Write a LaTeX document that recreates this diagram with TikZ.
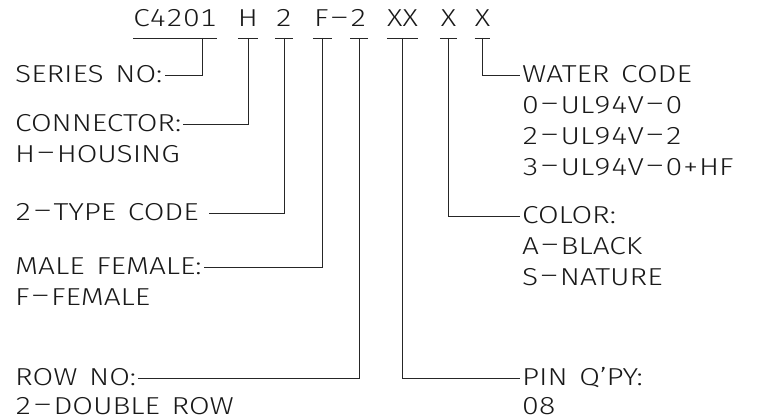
\documentclass[tikz,border=0pt]{standalone}
\usepackage{graphicx}
\usepackage{fontspec}
\setmainfont{Fira Sans Light}[FakeStretch=1.22, Numbers=Monospaced, WordSpace=1.4]
\newcommand{\hy}{\raisebox{1.5pt}{\scalebox{1.8}[1]{-}}}
\begin{document}
\begin{tikzpicture}[x=1pt,y=-1pt,
  every node/.style={font=\fontsize{24.5}{30}\selectfont, text=black!90},
  lbl/.style={anchor=base west, inner xsep=2pt, inner ysep=0pt, text height=14pt, text depth=0pt},
  tok/.style={anchor=base, inner xsep=0pt, inner ysep=0pt, text depth=0pt},
  ln/.style={line width=0.9pt, black!85}]
\useasboundingbox (0,0) rectangle (763,420);
% code tokens
\node[tok, minimum width=80pt] (t1) at (175,27) {C4201};
\node[tok, minimum width=20pt] (t2) at (248,27) {H};
\node[tok, minimum width=18pt] (t3) at (284,27) {2};
\node[tok, minimum width=55pt] (t4) at (340.5,27) {F\hy2};
\node[tok, minimum width=31pt] (t6) at (402.5,27) {XX};
\node[tok, minimum width=17pt] (t7) at (448.5,27) {X};
\node[tok, minimum width=15pt] (t8) at (482.5,27) {X};
% underlines
\foreach \t in {t1,t2,t3,t6,t7,t8}
  \draw[ln] ([yshift=-11pt]\t.base west) -- ([yshift=-11pt]\t.base east);
\draw[ln] ([yshift=-11pt]t4.base west) -- ++(19,0);
\draw[ln] ([yshift=-11pt]t4.base east) -- ++(-18,0);
% connector start points
\coordinate (c1) at ([xshift=-14pt,yshift=-11pt]t1.base east);
\coordinate (c2) at ([yshift=-11pt]t2.base);
\coordinate (c3) at ([yshift=-11pt]t3.base);
\coordinate (c4) at ([xshift=9.5pt,yshift=-11pt]t4.base west);
\coordinate (c5) at ([xshift=-9pt,yshift=-11pt]t4.base east);
\coordinate (c6) at ([yshift=-11pt]t6.base);
\coordinate (c7) at ([yshift=-11pt]t7.base);
\coordinate (c8) at ([yshift=-11pt]t8.base);
% left labels
\node[lbl] (series) at (13,82) {SERIES NO:};
\node[lbl] (conn) at (13,131) {CONNECTOR:};
\node[lbl] (conn2) at (13,162) {H\hy HOUSING};
\node[lbl] (type) at (13,220) {2\hy TYPE CODE};
\node[lbl] (male) at (13,274) {MALE FEMALE:};
\node[lbl] (male2) at (13,305) {F\hy FEMALE};
\node[lbl] (row) at (13,385) {ROW NO:};
\node[lbl] (row2) at (13,414) {2\hy DOUBLE ROW};
% right labels
\node[lbl] (water) at (520,82) {WATER CODE};
\node[lbl] (water2) at (520,113) {0\hy UL94V\hy 0};
\node[lbl] (water3) at (520,144) {2\hy UL94V\hy 2};
\node[lbl] (water4) at (520,175) {3\hy UL94V\hy 0+HF};
\node[lbl] (color) at (520,223) {COLOR:};
\node[lbl] (color2) at (520,254) {A\hy BLACK};
\node[lbl] (color3) at (520,285) {S\hy NATURE};
\node[lbl] (pin) at (520,385) {PIN Q’PY:};
\node[lbl] (pin2) at (520,414) {08};
% connectors
\draw[ln] (c1) |- (series.east);
\draw[ln] (c2) |- (conn.east);
\draw[ln] (c3) |- ([xshift=8pt]type.east);
\draw[ln] (c4) |- (male.east);
\draw[ln] (c5) |- (row.east);
\draw[ln] (c6) |- (pin.west);
\draw[ln] (c7) |- (color.west);
\draw[ln] (c8) |- (water.west);
\end{tikzpicture}
\end{document}
